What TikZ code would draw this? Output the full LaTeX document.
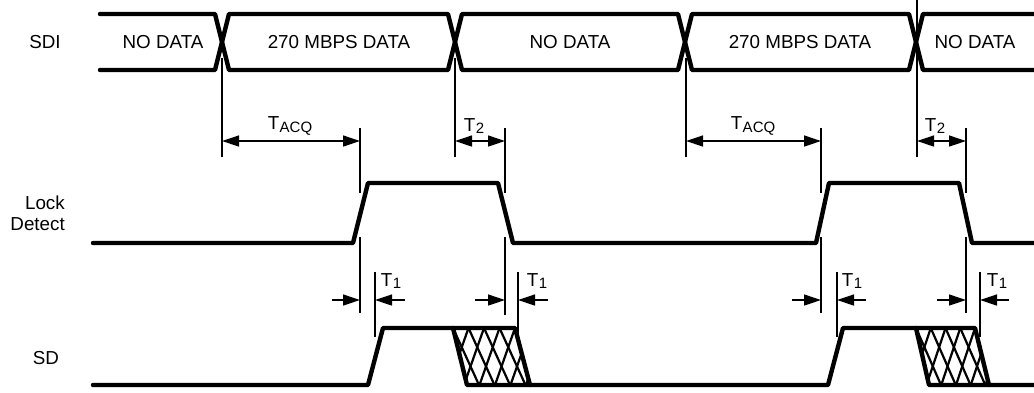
\documentclass[tikz,border=0pt]{standalone}
\usepackage{fontspec}
\setmainfont{Liberation Sans}
\usetikzlibrary{arrows.meta}
\newcommand{\Tsub}[1]{T\kern0.5pt\raisebox{-0.28ex}{\fontsize{15}{16}\selectfont #1}}
\begin{document}
\begin{tikzpicture}[x=1pt,y=-1pt,
  sig/.style={line width=4.4pt,line join=round,line cap=round},
  hatchline/.style={line width=2.2pt},
  thin/.style={line width=1.3pt},
  dim/.style={line width=1.3pt,{Triangle[length=17pt,width=11pt]}-{Triangle[length=17pt,width=11pt]}},
  tick/.style={line width=1.3pt,-{Triangle[length=17pt,width=11pt]}},
  lbl/.style={inner sep=0pt,font=\fontsize{18.8}{22}\selectfont}]
\useasboundingbox (0,0) rectangle (1034,392);

% signal names
\node[lbl] (sdi) at (45,42) {SDI};
\node[lbl,align=right,anchor=east] (lock) at (65,213.5) {Lock\\[-1pt]Detect};
\node[lbl] (sd) at (46,358) {SD};

% SDI bus
\draw[sig] (100,14) -- (215,14) -- (229,70) -- (448,70) -- (462,14) -- (678,14) -- (692,70) -- (909,70) -- (923,14) -- (1040,14);
\draw[sig] (100,70) -- (215,70) -- (229,14) -- (448,14) -- (462,70) -- (678,70) -- (692,14) -- (909,14) -- (923,70) -- (1040,70);
\node[lbl] (nd1) at (163,42) {NO DATA};
\node[lbl] (d1) at (339,42) {270 MBPS DATA};
\node[lbl] (nd2) at (570,42) {NO DATA};
\node[lbl] (d2) at (800,42) {270 MBPS DATA};
\node[lbl] (nd3) at (975,42) {NO DATA};

% Lock detect
\draw[sig] (93,243) -- (353,243) -- (368,183) -- (498,183) -- (513,243) -- (816,243) -- (829,183) -- (959,183) -- (972,243) -- (1040,243);

% SD hatching
\begin{scope}
  \clip (453,328) -- (515,328) -- (530,385) -- (467,385) -- cycle;
  \foreach \k in {-3,...,7}{
    \draw[hatchline] (453+15.5*\k,328) -- (453+15.5*\k+26,385);
    \draw[hatchline] (453+15.5*\k,328) -- (453+15.5*\k-20,385);
  }
\end{scope}
\begin{scope}
  \clip (916,328) -- (975,328) -- (989,385) -- (929,385) -- cycle;
  \foreach \k in {-3,...,7}{
    \draw[hatchline] (916+14.75*\k,328) -- (916+14.75*\k+25,385);
    \draw[hatchline] (916+14.75*\k,328) -- (916+14.75*\k-19,385);
  }
\end{scope}

% SD
\draw[sig] (93,385) -- (368,385) -- (383,328) -- (515,328) -- (530,385) -- (828,385) -- (843,328) -- (975,328) -- (989,385) -- (1040,385);
\draw[sig] (453,328) -- (467,385) -- (530,385);
\draw[sig] (916,328) -- (929,385) -- (989,385);

% reference lines
\draw[thin] (222,58) -- (222,157);
\draw[thin] (360,128) -- (360,193);
\draw[thin] (360,237) -- (360,313);
\draw[thin] (455,58) -- (455,157);
\draw[thin] (505,128) -- (505,193);
\draw[thin] (505,237) -- (505,315);
\draw[thin] (375,272) -- (375,337);
\draw[thin] (518,272) -- (518,337);
\draw[thin] (686,58) -- (686,157);
\draw[thin] (821,128) -- (821,193);
\draw[thin] (821,237) -- (821,313);
\draw[thin] (917,0) -- (917,157);
\draw[thin] (966,128) -- (966,193);
\draw[thin] (966,237) -- (966,313);
\draw[thin] (837,272) -- (837,337);
\draw[thin] (980,272) -- (980,337);

% dimension arrows
\coordinate (a1) at (222,141); \coordinate (a2) at (360,141);
\coordinate (b1) at (455,141); \coordinate (b2) at (505,141);
\coordinate (c1) at (686,141); \coordinate (c2) at (821,141);
\coordinate (e1) at (917,141); \coordinate (e2) at (966,141);
\draw[dim] (a1) -- (a2);
\draw[dim] (b1) -- (b2);
\draw[dim] (c1) -- (c2);
\draw[dim] (e1) -- (e2);
\node[lbl] (tacq1) at (290,126) {\Tsub{ACQ}};
\node[lbl] (t2a) at (474,126) {\Tsub{2}};
\node[lbl] (tacq2) at (753,126) {\Tsub{ACQ}};
\node[lbl] (t2b) at (935,126) {\Tsub{2}};

% T1 markers
\coordinate (p1) at (332,300); \coordinate (p2) at (360,300);
\coordinate (p3) at (405,300); \coordinate (p4) at (375,300);
\coordinate (q1) at (475,300); \coordinate (q2) at (505,300);
\coordinate (q3) at (548,300); \coordinate (q4) at (518,300);
\coordinate (r1) at (792,300); \coordinate (r2) at (821,300);
\coordinate (r3) at (866,300); \coordinate (r4) at (837,300);
\coordinate (s1) at (937,300); \coordinate (s2) at (966,300);
\coordinate (s3) at (1009,300); \coordinate (s4) at (980,300);
\draw[tick] (p1) -- (p2); \draw[tick] (p3) -- (p4);
\draw[tick] (q1) -- (q2); \draw[tick] (q3) -- (q4);
\draw[tick] (r1) -- (r2); \draw[tick] (r3) -- (r4);
\draw[tick] (s1) -- (s2); \draw[tick] (s3) -- (s4);
\node[lbl] (t1a) at (391,281) {\Tsub{1}};
\node[lbl] (t1b) at (537,281) {\Tsub{1}};
\node[lbl] (t1c) at (852,281) {\Tsub{1}};
\node[lbl] (t1d) at (997,281) {\Tsub{1}};
\end{tikzpicture}
\end{document}
